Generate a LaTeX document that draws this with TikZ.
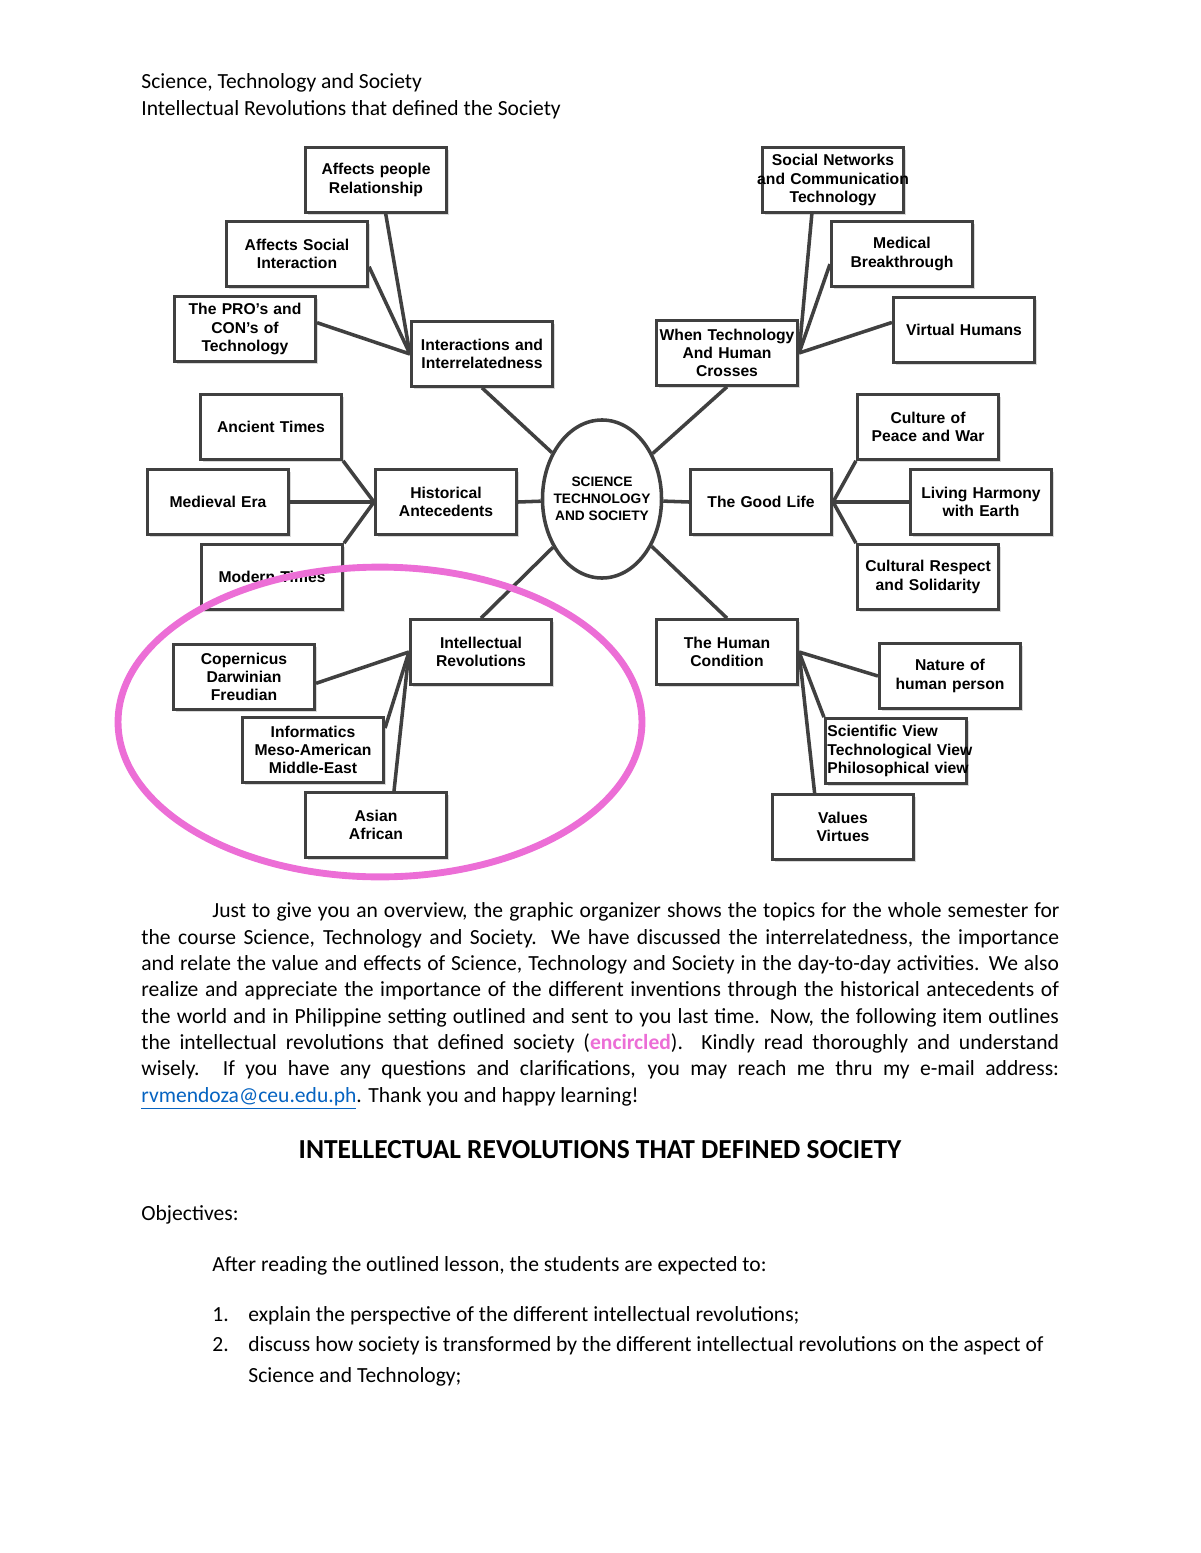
\documentclass[tikz,border=0pt]{standalone}
\usepackage{fontspec}
\setmainfont{Carlito}
\newfontfamily\arialfont{Liberation Sans}
\usepackage{xcolor}
\usetikzlibrary{shapes,shadows}
\definecolor{ringpink}{RGB}{236,110,214}
\definecolor{linkblue}{RGB}{5,99,193}

\begin{document}
\begin{tikzpicture}[x=0.51pt, y=-0.51pt,
    topic/.style={rectangle, draw=black!75, line width=1.5pt, fill=white, text width=70pt, minimum height=33pt, inner sep=1pt, align=center, font=\arialfont\bfseries\fontsize{8}{9.3}\selectfont, drop shadow={shadow xshift=1.2pt, shadow yshift=-1.2pt, opacity=.3}},
    hub/.style={ellipse, draw=black!75, line width=1.8pt, fill=white, minimum width=60.7pt, minimum height=80.6pt, inner xsep=-3.5pt, inner ysep=0pt, align=center, font=\arialfont\bfseries\fontsize{7}{8.7}\selectfont},
    link/.style={draw=black!75, line width=1.8pt},
    txt/.style={anchor=base west, inner sep=0pt, font=\fontsize{11}{13.5}\selectfont}
]
\useasboundingbox (0,0) rectangle (1200,1553);

% Page header
\node[txt] (head1) at (141,89) {Science, Technology and Society};
\node[txt] (head2) at (141,116) {Intellectual Revolutions that defined the Society};

% Centre
\node[hub] (sts) at (602,499) {SCIENCE\\TECHNOLOGY\\AND SOCIETY};

% Interactions branch
\node[topic] (inter) at (482,354) {Interactions and Interrelatedness};
\node[topic] (people) at (376,180) {Affects people\\Relationship};
\node[topic] (social) at (297,254) {Affects Social\\Interaction};
\node[topic] (pros) at (245,329) {The PRO’s and\\CON’s of\\Technology};

% Technology and human branch
\node[topic] (when) at (727,353) {\mbox{When Technology}\\And Human\\Crosses};
\node[topic] (socnet) at (833,180) {Social Networks\\\makebox[70pt]{and Communication}\\Technology};
\node[topic] (medical) at (902,254) {Medical\\Breakthrough};
\node[topic] (virtual) at (964,330) {Virtual Humans};

% Historical branch
\node[topic] (hist) at (446,502) {Historical\\Antecedents};
\node[topic] (ancient) at (271,427) {Ancient Times};
\node[topic] (medieval) at (218,502) {Medieval Era};
\node[topic] (modern) at (272,577) {Modern Times};

% Good life branch
\node[topic] (good) at (761,502) {The Good Life};
\node[topic] (culture) at (928,427) {Culture of\\Peace and War};
\node[topic] (living) at (981,502) {Living Harmony\\with Earth};
\node[topic] (respect) at (928,577) {Cultural Respect\\and Solidarity};

% Intellectual branch
\node[topic] (intel) at (481,652) {Intellectual\\Revolutions};
\node[topic] (cop) at (244,677) {Copernicus\\Darwinian\\Freudian};
\node[topic] (info) at (313,750) {Informatics\\Meso-American\\Middle-East};
\node[topic] (asian) at (376,825) {Asian\\African};

% Human condition branch
\node[topic] (human) at (727,652) {The Human\\Condition};
\node[topic] (nature) at (950,676) {Nature of\\human person};
\node[topic, align=left] (sci) at (896,751) {Scientific View\\\mbox{Technological View}\\\mbox{Philosophical view}};
\node[topic] (values) at (843,827) {Values\\Virtues};

% Links to the centre
\draw[link] (inter.south) -- (sts);
\draw[link] (when.south) -- (sts);
\draw[link] (hist.east) -- (sts);
\draw[link] (good.west) -- (sts);
\draw[link] (intel.north) -- (sts);
\draw[link] (human.north) -- (sts);

% Links to the sub topics
\draw[link] (inter.west) -- (people.-74);
\draw[link] (inter.west) -- (social.-10);
\draw[link] (inter.west) -- (pros.5);
\draw[link] (when.east) -- (socnet.-122);
\draw[link] (when.east) -- (medical.188);
\draw[link] (when.east) -- (virtual.174);
\draw[link] (hist.west) -- (ancient.south east);
\draw[link] (hist.west) -- (medieval.east);
\draw[link] (hist.west) -- (modern.north east);
\draw[link] (good.east) -- (culture.south west);
\draw[link] (good.east) -- (living.west);
\draw[link] (good.east) -- (respect.north west);
\draw[link] (intel.west) -- (cop.-5);
\draw[link] (intel.west) -- (info.17);
\draw[link] (intel.west) -- (asian.62);
\draw[link] (human.east) -- (nature.west);
\draw[link] (human.east) -- (sci.north west);
\draw[link] (human.east) -- (values.130);

% Encircled part
\draw[ringpink, line width=3.5pt] (380,722) ellipse [x radius=133.6pt, y radius=79pt];

% Paragraph
\node[txt] (p1) at (212,917) {\makebox[432pt][s]{Just to give you an overview, the graphic organizer shows the topics for the whole semester for}};
\node[txt] (p2) at (141,944) {\makebox[468pt][s]{the course Science, Technology and Society. We have discussed the interrelatedness, the importance}};
\node[txt] (p3) at (141,970) {\makebox[468pt][s]{and relate the value and effects of Science, Technology and Society in the day-to-day activities. We also}};
\node[txt] (p4) at (141,996) {\makebox[468pt][s]{realize and appreciate the importance of the different inventions through the historical antecedents of}};
\node[txt] (p5) at (141,1023) {\makebox[468pt][s]{the world and in Philippine setting outlined and sent to you last time. Now, the following item outlines}};
\node[txt] (p6) at (141,1049) {\makebox[468pt][s]{the intellectual revolutions that defined society ({\color{ringpink}\bfseries encircled}). Kindly read thoroughly and understand}};
\node[txt] (p7) at (141,1075) {\makebox[468pt][s]{wisely. If you have any questions and clarifications, you may reach me thru my e-mail address:}};
\node[txt] (p8) at (141,1102) {\textcolor{linkblue}{\underline{rvmendoza@ceu.edu.ph}}. Thank you and happy learning!};

% Lesson heading and objectives
\node[anchor=base, inner sep=0pt, font=\bfseries\fontsize{14}{17}\selectfont] (title) at (600,1158) {INTELLECTUAL REVOLUTIONS THAT DEFINED SOCIETY};
\node[txt] (obj) at (141,1220) {Objectives:};
\node[txt] (intro) at (212,1271) {After reading the outlined lesson, the students are expected to:};
\node[txt] (n1) at (212,1321) {1.};
\node[txt] (obj1) at (248,1321) {explain the perspective of the different intellectual revolutions;};
\node[txt] (n2) at (212,1351) {2.};
\node[txt] (obj2) at (248,1351) {discuss how society is transformed by the different intellectual revolutions on the aspect of};
\node[txt] (obj2b) at (248,1382) {Science and Technology;};

\end{tikzpicture}
\end{document}
